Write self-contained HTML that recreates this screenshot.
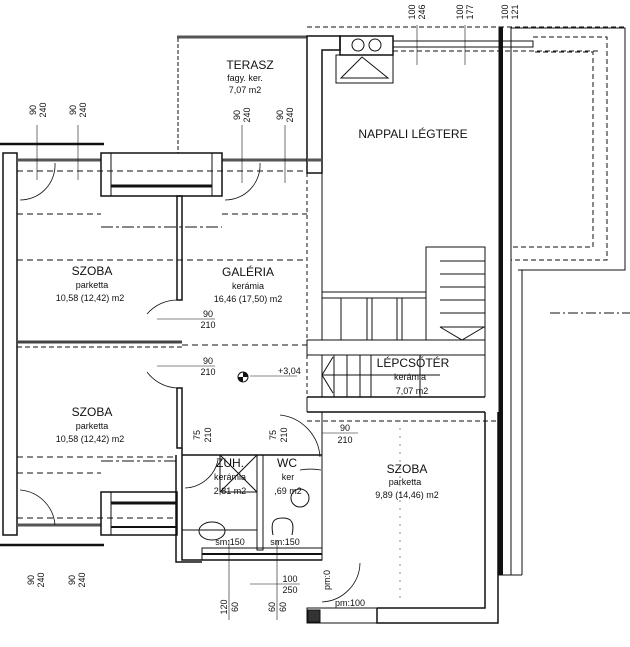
<!DOCTYPE html>
<html><head><meta charset="utf-8"><style>
html,body{margin:0;padding:0;background:#fff}
svg{display:block}
text{font-family:"Liberation Sans",sans-serif;fill:#111}
</style></head><body>
<svg width="630" height="647" viewBox="0 0 630 647" xmlns="http://www.w3.org/2000/svg">
<g fill="none" stroke="#111" stroke-width="1">
<!-- left outer wall -->
<rect x="3" y="153" width="14" height="382" stroke-width="1.5"/>
<line x1="0" y1="144" x2="104" y2="144" stroke-width="2.5"/>
<line x1="0" y1="545" x2="104" y2="545" stroke-width="2.5"/>
<!-- top windows -->
<line x1="17" y1="160" x2="101" y2="160" stroke-width="3" stroke="#555"/>
<line x1="222" y1="160" x2="307" y2="160" stroke-width="3" stroke="#555"/>
<line x1="17" y1="525" x2="101" y2="525" stroke-width="3" stroke="#555"/>
<!-- window box top -->
<rect x="101" y="153" width="121" height="43" stroke-width="1.5"/>
<rect x="101" y="153" width="10" height="43"/>
<rect x="212" y="153" width="10" height="43"/>
<line x1="111" y1="186" x2="212" y2="186" stroke-width="3"/>
<!-- window box bottom -->
<rect x="101" y="492" width="76" height="43" stroke-width="1.5"/>
<rect x="101" y="492" width="10" height="43"/>
<line x1="111" y1="503" x2="177" y2="503" stroke-width="3"/>
<line x1="111" y1="527" x2="177" y2="527" stroke-width="2"/>
<!-- gallery wall -->
<rect x="177" y="196" width="5" height="104" stroke-width="1.5"/>
<rect x="177" y="388" width="5" height="60" stroke-width="1.5"/>
<!-- middle wall -->
<line x1="17" y1="342" x2="182" y2="342" stroke-width="3" stroke="#444"/>
<line x1="17" y1="347" x2="182" y2="347" stroke-dasharray="5,3"/>
<!-- terrace -->
<line x1="177" y1="37" x2="307" y2="37" stroke-width="3" stroke="#555"/>
<line x1="178" y1="38" x2="178" y2="153" stroke-dasharray="4,2"/>
<!-- nappali L wall -->
<path d="M307 36 H340 V50 H322 V173 H307 Z" stroke-width="1.5"/>
<line x1="307" y1="160" x2="322" y2="160" stroke-width="3" stroke="#555"/>
<!-- fireplace -->
<rect x="340" y="36" width="53" height="19" stroke-width="1.5"/>
<circle cx="358" cy="45" r="6"/><circle cx="375" cy="45" r="6"/>
<rect x="336" y="55" width="57" height="28"/>
<path d="M341 78 L362 57 L388 78 Z"/>
<!-- top window rail -->
<rect x="393" y="41" width="140" height="6"/>
<line x1="307" y1="27" x2="625" y2="27" stroke-dasharray="5,3"/>
<line x1="393" y1="51" x2="600" y2="51" stroke-dasharray="5,3"/>
<!-- thick vertical wall -->
<rect x="499" y="27" width="3.5" height="548" fill="#111"/>
<line x1="511" y1="27" x2="511" y2="575"/>
<line x1="499" y1="575" x2="522" y2="575"/>
<line x1="522" y1="270" x2="522" y2="575"/>
<!-- balcony -->
<path d="M511 28 H625 V270 H518" stroke-width="1"/>
<path d="M533 37 H607 V260 H511" stroke-dasharray="5,3"/>
<path d="M535 52 H593 V247 H511" stroke-dasharray="5,3"/>
<line x1="550" y1="313" x2="630" y2="313" stroke-dasharray="10,3,2,3"/>
<!-- nappali left inner line -->
<line x1="322" y1="173" x2="322" y2="340"/>
<line x1="307" y1="173" x2="307" y2="397" stroke-dasharray="4,3"/>
<!-- railing -->
<line x1="322" y1="292" x2="426" y2="292"/><line x1="322" y1="298" x2="426" y2="298"/>
<line x1="341" y1="298" x2="341" y2="340"/><line x1="367" y1="298" x2="367" y2="340"/>
<line x1="372" y1="298" x2="372" y2="340"/><line x1="397" y1="298" x2="397" y2="340"/>
<line x1="402" y1="298" x2="402" y2="340"/>
<!-- stair box -->
<path d="M426 340 V247 H485 V397"/>
<line x1="440" y1="261" x2="485" y2="261"/><line x1="440" y1="274" x2="485" y2="274"/>
<line x1="440" y1="287" x2="485" y2="287"/><line x1="440" y1="300" x2="485" y2="300"/>
<line x1="440" y1="313" x2="485" y2="313"/><line x1="440" y1="327" x2="485" y2="327"/>
<path d="M440 327 L462 340 L484 327"/>
<rect x="307" y="340" width="178" height="15"/>
<line x1="322" y1="355" x2="322" y2="397"/><line x1="334" y1="355" x2="334" y2="397"/>
<line x1="347" y1="355" x2="347" y2="397"/><line x1="360" y1="355" x2="360" y2="397"/>
<line x1="371" y1="355" x2="371" y2="397"/><line x1="420" y1="355" x2="420" y2="397"/>
<path d="M333 357 L322 375 L333 393"/>
<line x1="322" y1="375" x2="440" y2="375"/>
<!-- lepcsoter bottom wall -->
<path d="M307 397 H485 M307 412 H485" stroke-width="1.5"/>
<line x1="307" y1="397" x2="307" y2="412"/>
<!-- right szoba -->
<path d="M485 412 V608 H377 M498 412 V623 H377 V608" stroke-width="1.5"/>
<line x1="307" y1="421" x2="499" y2="421" stroke-dasharray="5,3"/>
<line x1="322" y1="412" x2="322" y2="560"/>
<rect x="307" y="608" width="70" height="15"/>
<rect x="308" y="610" width="12" height="12" fill="#333"/>
<path d="M300 470 A60 60 0 0 1 321 470" stroke-width="0.8"/>
<path d="M360 563 A40 40 0 0 1 322 602" stroke-width="0.8"/>
<line x1="400" y1="420" x2="400" y2="600" stroke-dasharray="2,6" stroke="#888"/>
<!-- bathroom block -->
<path d="M182 448 V455 H322 M182 455 V560 H322" stroke-width="1.5"/>
<path d="M176 455 V562 H202" stroke-width="1.5"/>
<rect x="220" y="455" width="37" height="37"/>
<path d="M220 455 L257 492 M257 455 L220 492"/>
<rect x="257" y="455" width="6" height="95"/>
<line x1="182" y1="530" x2="257" y2="530"/>
<ellipse cx="212" cy="531" rx="13" ry="9"/>
<path d="M273 535 C270 520 275 518 283 518 C291 518 295 522 292 535"/>
<circle cx="300" cy="498" r="9"/>
<rect x="202" y="548" width="120" height="12"/>
<line x1="202" y1="554" x2="322" y2="554" stroke-width="2"/>
<!-- doors -->
<path d="M20 200 A35 35 0 0 0 55 163" stroke-width="0.8"/>
<path d="M225 200 A35 35 0 0 0 260 163" stroke-width="0.8"/>
<path d="M147 314 A40 40 0 0 1 177 300" stroke-width="0.8"/>
<path d="M147 372 A40 40 0 0 0 177 388" stroke-width="0.8"/>
<path d="M20 490 A38 38 0 0 1 55 525" stroke-width="0.8"/>
<path d="M185 488 A35 35 0 0 0 218 460" stroke-width="0.8"/>
<path d="M280 415 A45 45 0 0 1 320 457" stroke-width="0.8"/>
<!-- dashed lines -->
<g stroke-dasharray="6,4">
<line x1="17" y1="171" x2="307" y2="171"/>
<line x1="17" y1="214" x2="101" y2="214"/>
<line x1="222" y1="214" x2="307" y2="214"/>
<line x1="17" y1="260" x2="307" y2="260"/>
<line x1="17" y1="457" x2="177" y2="457"/>
<line x1="17" y1="473" x2="101" y2="473"/>
<line x1="17" y1="518" x2="177" y2="518"/>
<line x1="182" y1="345" x2="307" y2="345"/>
</g>
<line x1="101" y1="227" x2="222" y2="227" stroke-dasharray="12,3,3,3"/>
<line x1="101" y1="461" x2="177" y2="461" stroke-dasharray="12,3,3,3"/>
<!-- dim lines -->
<line x1="37" y1="125" x2="37" y2="180" stroke-width="0.6"/>
<line x1="78" y1="125" x2="78" y2="180" stroke-width="0.6"/>
<line x1="242" y1="125" x2="242" y2="183" stroke-width="0.6"/>
<line x1="285" y1="125" x2="285" y2="183" stroke-width="0.6"/>
<line x1="417" y1="25" x2="417" y2="65" stroke-width="0.6"/>
<line x1="465" y1="25" x2="465" y2="65" stroke-width="0.6"/>
<line x1="229" y1="540" x2="229" y2="620" stroke-width="0.6"/>
<line x1="277" y1="540" x2="277" y2="620" stroke-width="0.6"/>
<line x1="157" y1="319" x2="215" y2="319" stroke-width="0.6"/>
<line x1="157" y1="366" x2="215" y2="366" stroke-width="0.6"/>
<line x1="250" y1="376" x2="297" y2="376" stroke-width="0.6"/>
<line x1="322" y1="433" x2="358" y2="433" stroke-width="0.6"/>
<line x1="250" y1="584" x2="300" y2="584" stroke-width="0.6"/>
</g>
<circle cx="243" cy="377" r="5" fill="none" stroke="#111"/>
<path d="M243 372 A5 5 0 0 1 248 377 L243 377 Z M243 382 A5 5 0 0 1 238 377 L243 377Z" fill="#111"/>
<g font-size="12" text-anchor="middle">
<text x="250" y="69">TERASZ</text>
<text x="413" y="138">NAPPALI LÉGTERE</text>
<text x="92" y="275">SZOBA</text>
<text x="248" y="276">GALÉRIA</text>
<text x="92" y="416">SZOBA</text>
<text x="407" y="473">SZOBA</text>
<text x="413" y="367">LÉPCSŐTÉR</text>
<text x="230" y="467">ZUH.</text>
<text x="287" y="467">WC</text>
</g>
<g font-size="9" text-anchor="middle">
<text x="245" y="81">fagy. ker.</text>
<text x="245" y="93">7,07 m2</text>
<text x="92" y="288">parketta</text>
<text x="90" y="301">10,58 (12,42) m2</text>
<text x="248" y="289">kerámia</text>
<text x="248" y="302">16,46 (17,50) m2</text>
<text x="92" y="429">parketta</text>
<text x="90" y="442">10,58 (12,42) m2</text>
<text x="230" y="480">kerámia</text>
<text x="230" y="494">2,81 m2</text>
<text x="288" y="480">ker</text>
<text x="288" y="494">,69 m2</text>
<text x="405" y="485">parketta</text>
<text x="407" y="498">9,89 (14,46) m2</text>
<text x="410" y="380">kerámia</text>
<text x="412" y="394">7,07 m2</text>
<text x="230" y="545">sm:150</text>
<text x="285" y="545">sm:150</text>
<text x="208" y="317">90</text><text x="208" y="328">210</text>
<text x="208" y="364">90</text><text x="208" y="375">210</text>
<text x="345" y="431">90</text><text x="345" y="443">210</text>
<text x="290" y="582">100</text><text x="290" y="593">250</text>
<text x="350" y="606">pm:100</text>
<text x="278" y="374" text-anchor="start" x="255">+3,04</text>
</g>
<g font-size="9" text-anchor="middle">
<text transform="translate(36,110) rotate(-90)">90</text>
<text transform="translate(46,110) rotate(-90)">240</text>
<text transform="translate(76,110) rotate(-90)">90</text>
<text transform="translate(86,110) rotate(-90)">240</text>
<text transform="translate(240,115) rotate(-90)">90</text>
<text transform="translate(250,115) rotate(-90)">240</text>
<text transform="translate(283,115) rotate(-90)">90</text>
<text transform="translate(293,115) rotate(-90)">240</text>
<text transform="translate(415,12) rotate(-90)">100</text>
<text transform="translate(425,12) rotate(-90)">246</text>
<text transform="translate(463,12) rotate(-90)">100</text>
<text transform="translate(473,12) rotate(-90)">177</text>
<text transform="translate(508,12) rotate(-90)">100</text>
<text transform="translate(518,12) rotate(-90)">121</text>
<text transform="translate(34,580) rotate(-90)">90</text>
<text transform="translate(44,580) rotate(-90)">240</text>
<text transform="translate(75,580) rotate(-90)">90</text>
<text transform="translate(85,580) rotate(-90)">240</text>
<text transform="translate(227,607) rotate(-90)">120</text>
<text transform="translate(238,607) rotate(-90)">60</text>
<text transform="translate(275,607) rotate(-90)">60</text>
<text transform="translate(286,607) rotate(-90)">60</text>
<text transform="translate(200,435) rotate(-90)">75</text>
<text transform="translate(211,435) rotate(-90)">210</text>
<text transform="translate(276,435) rotate(-90)">75</text>
<text transform="translate(287,435) rotate(-90)">210</text>
<text transform="translate(330,580) rotate(-90)">pm:0</text>
</g>
</svg>
</body></html>
